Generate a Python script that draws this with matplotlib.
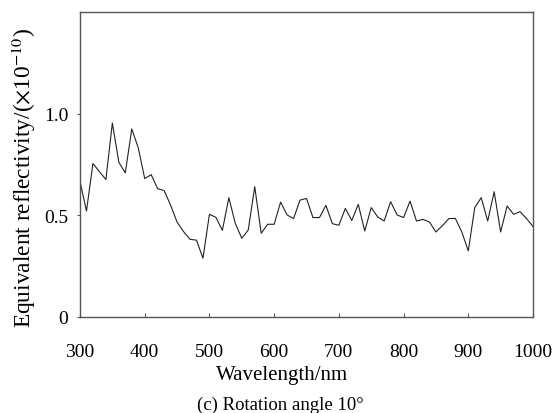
import matplotlib
matplotlib.use("Agg")
import matplotlib.pyplot as plt
import numpy as np

# Wavelength samples (nm) and equivalent reflectivity (x1e-10)
wavelength = list(range(300, 1001, 10))
reflectivity = [
    0.668, 0.521, 0.755, 0.715, 0.676, 0.954, 0.761, 0.709, 0.925, 0.832,
    0.681, 0.700, 0.631, 0.622, 0.550, 0.467, 0.420, 0.382, 0.378, 0.289,
    0.505, 0.490, 0.426, 0.587, 0.460, 0.387, 0.428, 0.641, 0.412, 0.456,
    0.456, 0.565, 0.502, 0.484, 0.575, 0.583, 0.489, 0.489, 0.549, 0.459,
    0.451, 0.534, 0.475, 0.554, 0.423, 0.538, 0.492, 0.472, 0.567, 0.502,
    0.489, 0.570, 0.472, 0.480, 0.467, 0.418, 0.449, 0.484, 0.485, 0.418,
    0.325, 0.538, 0.587, 0.472, 0.616, 0.418, 0.546, 0.505, 0.518, 0.484,
    0.445,
]
x_ticks = [300, 400, 500, 600, 700, 800, 900, 1000]
y_ticks = [0, 0.5, 1.0]
y_tick_labels = ["0", "0.5", "1.0"]

plt.rcParams["font.family"] = ["Liberation Serif", "DejaVu Serif"]
plt.rcParams["mathtext.fontset"] = "stix"

W, H = 556, 414
fig = plt.figure(figsize=(W / 100, H / 100), dpi=100)
ax = fig.add_axes([80 / W, 1 - 318 / H, 453 / W, 305 / H])

ax.plot(wavelength, reflectivity, color="#222222", linewidth=0.8)

ax.set_xlim(300, 1000)
ax.set_ylim(0, 1.5)
ax.set_xticks(x_ticks)
ax.set_yticks(y_ticks)
ax.set_yticklabels(y_tick_labels)

for s in ax.spines.values():
    s.set_color("#555555")
    s.set_linewidth(1.0)

ax.tick_params(axis="x", direction="in", length=3, width=0.8, color="#555555",
               labelsize=14, pad=19)
ax.tick_params(axis="y", direction="out", length=2.5, width=0.8, color="#555555",
               labelsize=14, pad=6)

ax.set_xlabel("Wavelength/nm", fontsize=15)
ax.xaxis.set_label_coords(0.446, -0.19, transform=ax.transAxes)
ax.xaxis.label.set_va("center")
ax.set_ylabel(r"Equivalent reflectivity/($\times$10$^{-10}$)", fontsize=16.8)
ax.yaxis.set_label_coords(-0.124, 0.459, transform=ax.transAxes)
ax.yaxis.label.set_va("center")
fig.text(280 / W, 1 - 405 / H, "(c) Rotation angle 10°", fontsize=13.5,
         ha="center", va="center")

fig.savefig("out.png", dpi=100)
